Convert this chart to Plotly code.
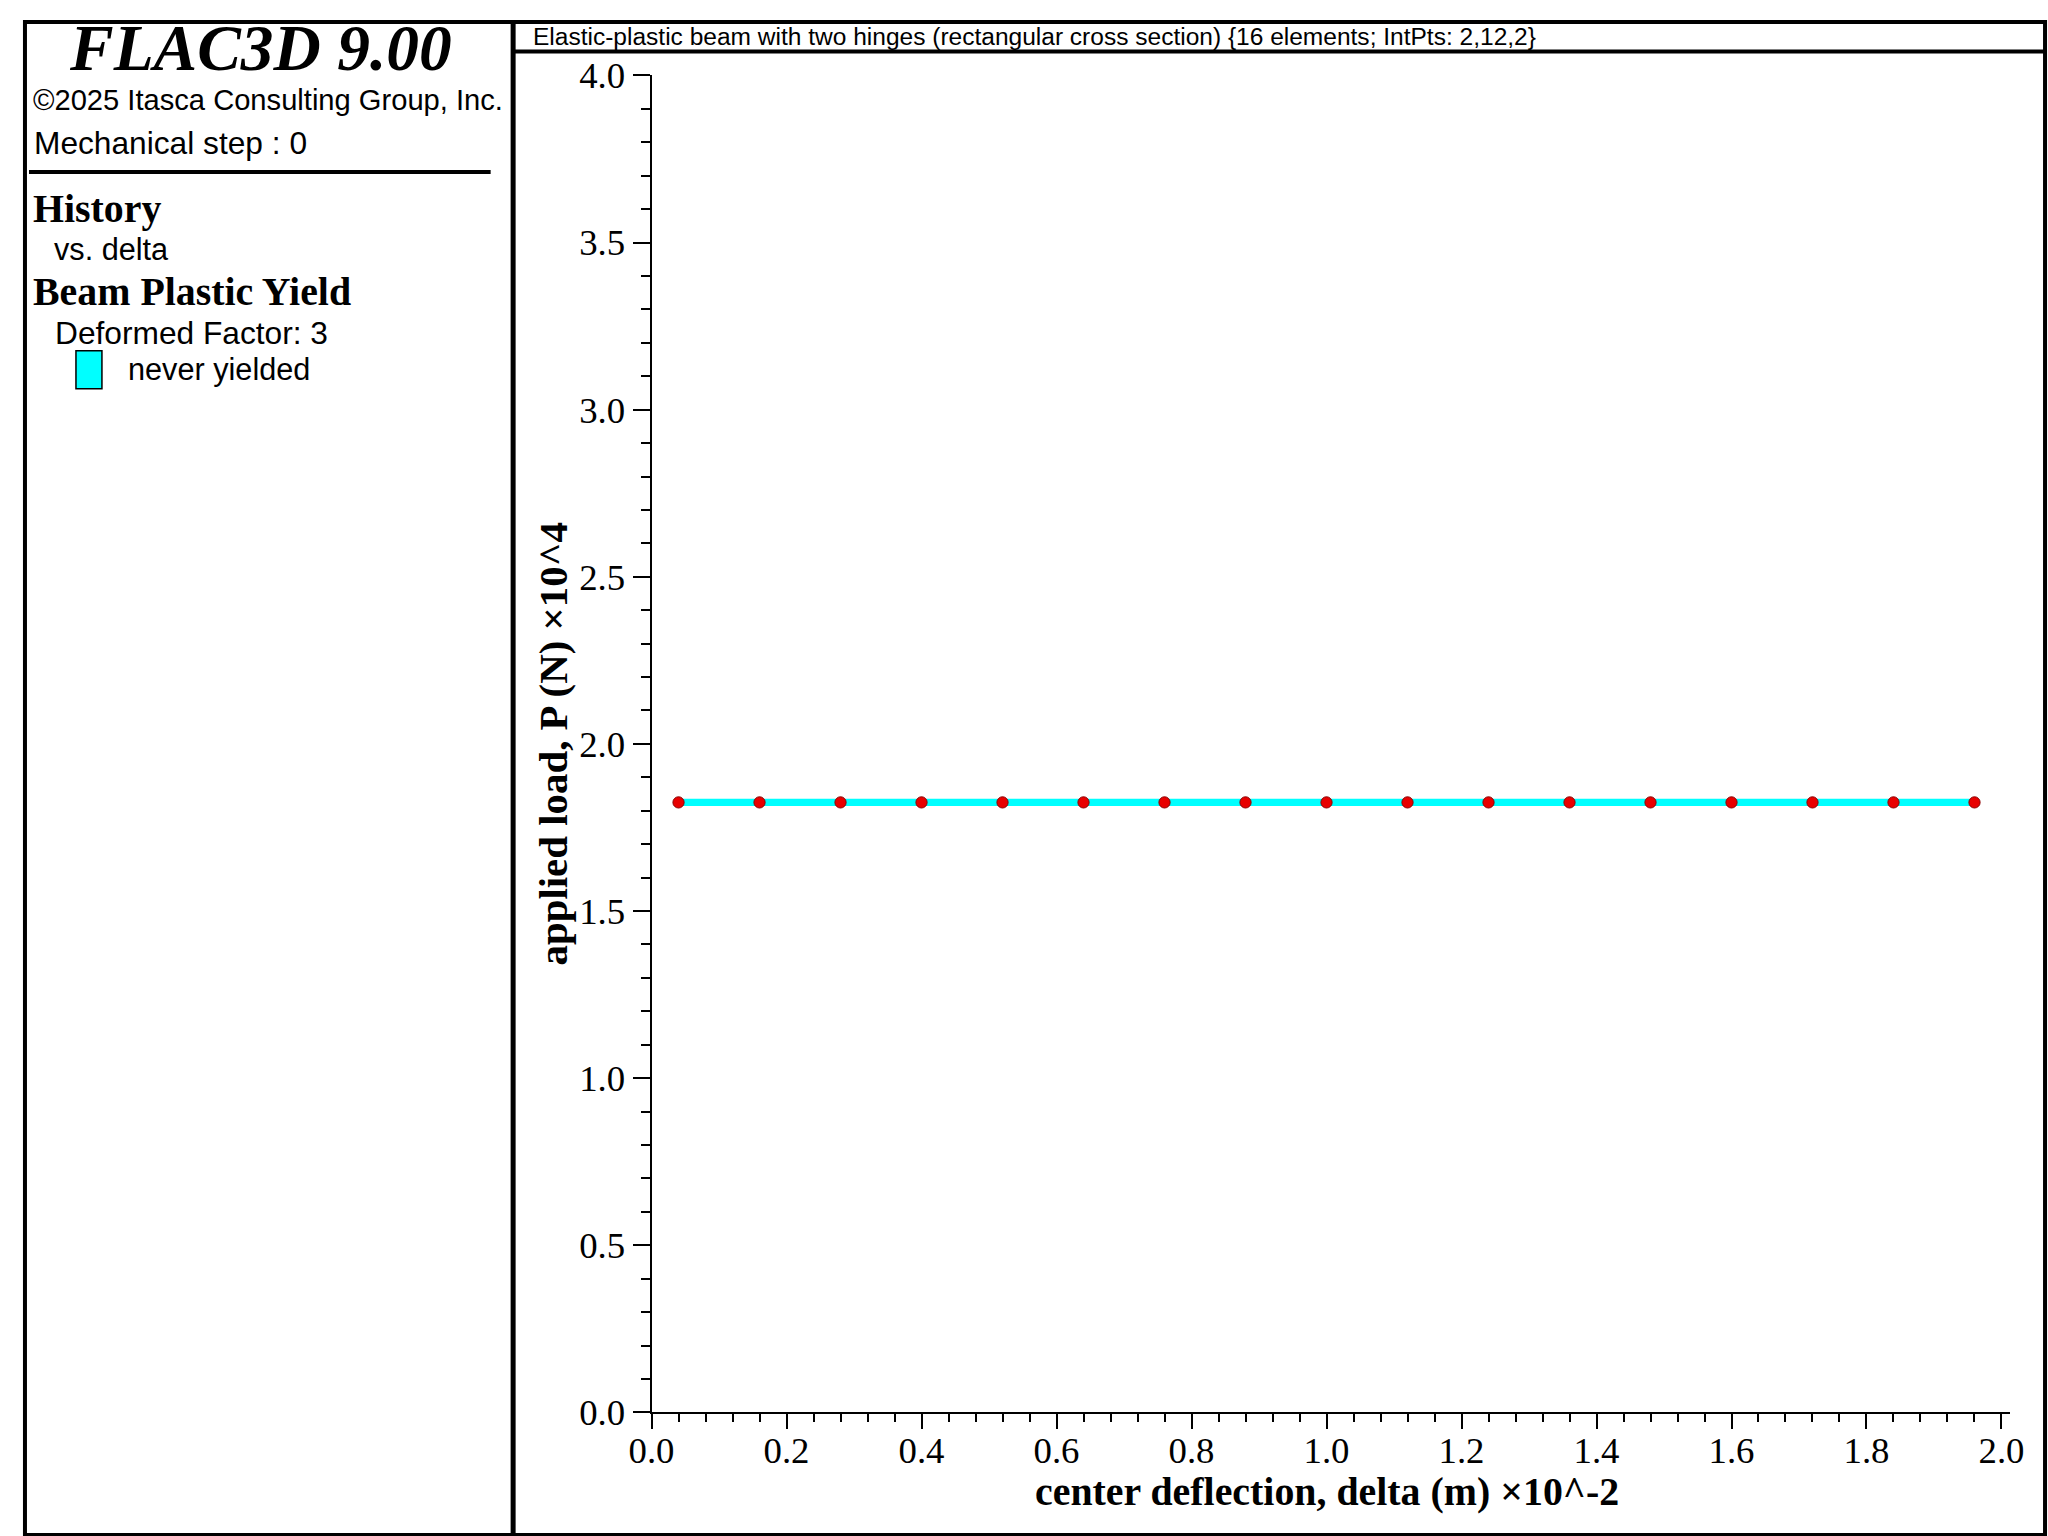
import plotly.graph_objects as go

# The captured picture maps page pixels to image pixels as
#   X = OX + SX * x ,  Y = OY + SY * y   (measured from earlier renders).
# Positions below are given in target-image pixels and converted.
OX, SX = 22.0, 0.9828
OY, SY = 19.6, 0.973
K = 1 / 0.978            # size compensation for the capture scaling
W = int(round((2048 - OX) / SX))   # figure reaches the right image edge
H = int(round((1536 - OY) / SY))   # figure reaches the bottom image edge

# ---- data (display units: delta x10^-2 m, load x10^4 N) ----
delta = [0.04, 0.16, 0.28, 0.40, 0.52, 0.64, 0.76, 0.88, 1.00,
         1.12, 1.24, 1.36, 1.48, 1.60, 1.72, 1.84, 1.96]
load = [1.825, 1.825, 1.825, 1.825, 1.825, 1.825, 1.825, 1.825, 1.825,
        1.825, 1.825, 1.825, 1.825, 1.825, 1.825, 1.825, 1.825]

title_text = "Elastic-plastic beam with two hinges (rectangular cross section) {16 elements; IntPts: 2,12,2}"
x_title = "center deflection, delta (m) \u00d710^-2"
y_title = "applied load, P (N) \u00d710^4"

SERIF = "Liberation Serif, Times New Roman, serif"
SANS = "Liberation Sans, Arial, sans-serif"


def px(X):
    return ((X - OX) / SX) / W


def py(Y):
    return 1 - ((Y - OY) / SY) / H


fig = go.Figure()
fig.add_trace(go.Scatter(
    x=delta, y=load, mode="lines+markers",
    line=dict(color="#00FFFF", width=7 * K),
    marker=dict(color="#E80000", size=11 * K, line=dict(color="#8B0000", width=1)),
    showlegend=False, hoverinfo="skip",
))

x0p, x1p = 651, 2011
y0p, y1p = 1411, 75

axis_common = dict(
    showline=True, linecolor="black", linewidth=2,
    ticks="outside", tickcolor="black", tickwidth=2,
    showgrid=False, zeroline=False,
    tickfont=dict(family=SERIF, size=36 * K, color="black"),
    tickformat=".1f",
)

fig.update_layout(
    width=W, height=H,
    margin=dict(l=0, r=0, t=0, b=0),
    paper_bgcolor="white", plot_bgcolor="white",
    xaxis=dict(domain=[px(x0p), px(x1p)], range=[0, 2.0133], dtick=0.2, tick0=0,
               ticklen=round(15 * K), ticklabelstandoff=-11,
               minor=dict(dtick=0.04, tick0=0, ticks="outside", ticklen=round(8 * K),
                          tickwidth=2, tickcolor="black", showgrid=False),
               **axis_common),
    yaxis=dict(domain=[py(y0p), py(y1p)], range=[0, 4.0], dtick=0.5, tick0=0,
               ticklen=round(17 * K),
               minor=dict(dtick=0.1, tick0=0, ticks="outside", ticklen=round(9 * K),
                          tickwidth=2, tickcolor="black", showgrid=False),
               **axis_common),
)

shapes = []
# outer border (at the figure edge)
shapes.append(dict(type="rect", xref="paper", yref="paper",
                   x0=2 / W, x1=1 - 2 / W, y0=2 / H, y1=1 - 2 / H,
                   line=dict(color="black", width=4), fillcolor="rgba(0,0,0,0)"))
# vertical separator
shapes.append(dict(type="line", xref="paper", yref="paper",
                   x0=px(512.5), x1=px(512.5), y0=0, y1=1,
                   line=dict(color="black", width=5)))
# title bar bottom line
shapes.append(dict(type="line", xref="paper", yref="paper",
                   x0=px(512), x1=1, y0=py(51), y1=py(51),
                   line=dict(color="black", width=4)))
# left panel rule
shapes.append(dict(type="line", xref="paper", yref="paper",
                   x0=px(28), x1=px(490), y0=py(171.5), y1=py(171.5),
                   line=dict(color="black", width=4)))
# legend swatch
shapes.append(dict(type="rect", xref="paper", yref="paper",
                   x0=px(75), x1=px(101), y0=py(388), y1=py(350),
                   line=dict(color="black", width=1.5), fillcolor="#00FFFF"))
fig.update_layout(shapes=shapes)


def ann(text, x, y, size, family, xanchor="left", bold=False, italic=False, angle=0):
    t = text
    if bold:
        t = "<b>" + t + "</b>"
    if italic:
        t = "<i>" + t + "</i>"
    fig.add_annotation(text=t, x=px(x), y=py(y), xref="paper", yref="paper",
                       xanchor=xanchor, yanchor="middle", showarrow=False,
                       textangle=angle,
                       font=dict(family=family, size=size * K, color="black"))


ann("FLAC3D 9.00", 260, 48, 64, SERIF, xanchor="center", bold=True, italic=True)
ann("\u00a92025 Itasca Consulting Group, Inc.", 30, 100, 28.5, SANS)
ann("Mechanical step : 0", 31, 143, 31, SANS)
ann("History", 30, 208, 39, SERIF, bold=True)
ann("vs. delta", 51, 248, 30, SANS)
ann("Beam Plastic Yield", 30, 291, 39, SERIF, bold=True)
ann("Deformed Factor: 3", 52, 332, 31, SANS)
ann("never yielded", 125, 369, 30, SANS)
ann(title_text, 530, 36, 24, SANS)
ann(x_title, 1327, 1490, 39, SERIF, xanchor="center", bold=True)
ann(y_title, 553, 743, 40, SERIF, xanchor="center", bold=True, angle=-90)

post = (
    "for (const el of [document.documentElement, document.body]) {"
    "el.style.setProperty('margin','0','important');"
    "el.style.setProperty('padding','0','important');"
    "el.style.setProperty('overflow','hidden','important');}"
)
fig.write_html("out.html", config={"displayModeBar": False}, post_script=post)
